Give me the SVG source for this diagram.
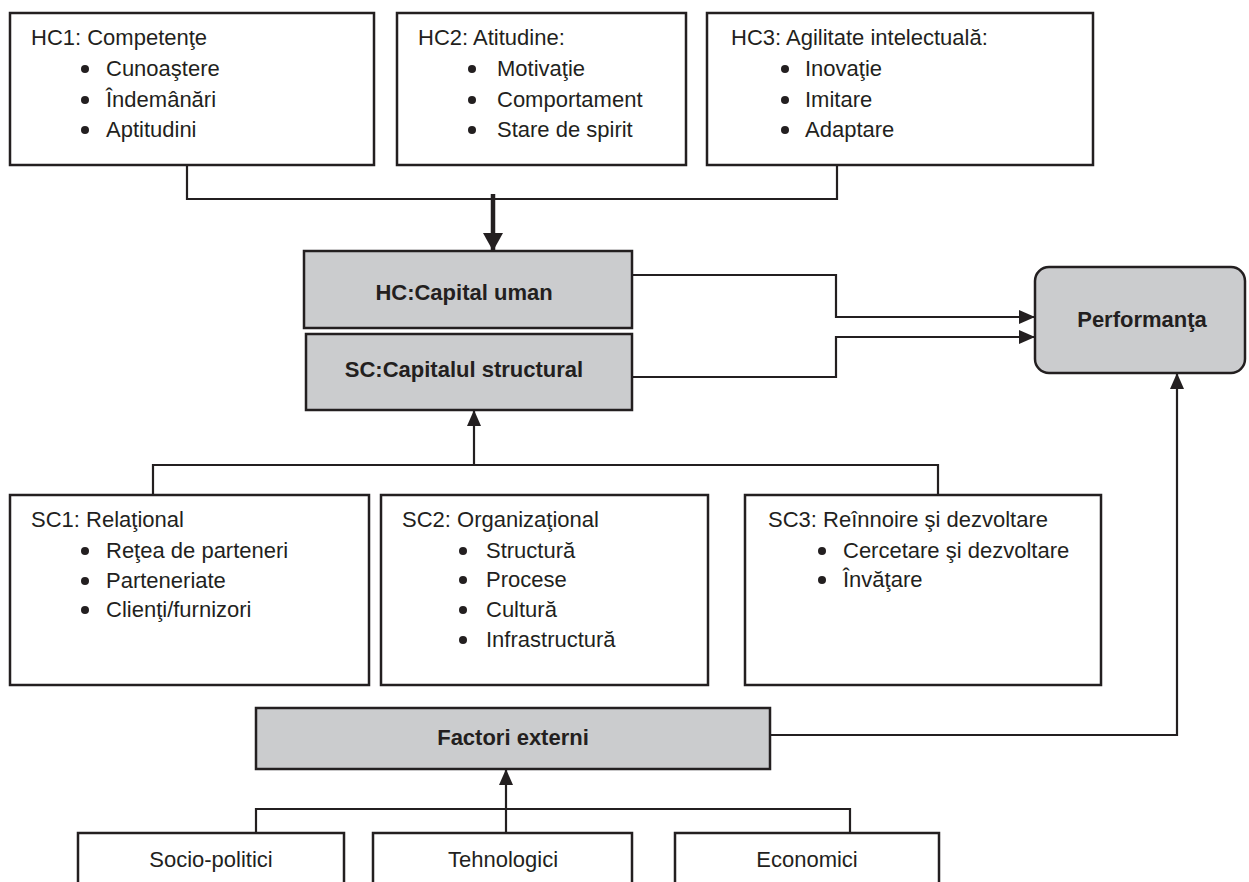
<svg xmlns="http://www.w3.org/2000/svg" width="1249" height="882" viewBox="0 0 1249 882">
<defs>
<style>
.box{fill:#fff;stroke:#231f20;stroke-width:2.5}
.gbox{fill:#cbccce;stroke:#231f20;stroke-width:2.5}
.t{font-family:"Liberation Sans",Arial,sans-serif;font-size:22px;fill:#231f20}
.b{font-family:"Liberation Sans",Arial,sans-serif;font-size:22px;font-weight:bold;fill:#231f20;text-anchor:middle}
.c{text-anchor:middle}
.ln{fill:none;stroke:#231f20;stroke-width:2.2}
.dot{fill:#231f20}
</style>
<marker id="ah" markerUnits="userSpaceOnUse" markerWidth="16" markerHeight="14" refX="15" refY="7" orient="auto">
<path d="M0,0 L16,7 L0,14 Z" fill="#231f20"/>
</marker>
<marker id="ahb" markerUnits="userSpaceOnUse" markerWidth="18" markerHeight="20" refX="17" refY="10" orient="auto">
<path d="M0,0 L18,10 L0,20 Z" fill="#231f20"/>
</marker>
</defs>
<rect width="1249" height="882" fill="#fff"/>

<g id="connectors">
<path class="ln" d="M187,165 V199 H837 V165"/>
<path d="M493,194 V250" fill="none" stroke="#231f20" stroke-width="4.5" marker-end="url(#ahb)"/>
<path class="ln" d="M632,275 H836 V317 H1034" marker-end="url(#ah)"/>
<path class="ln" d="M632,377 H836 V337 H1034" marker-end="url(#ah)"/>
<path class="ln" d="M153,495 V465 H938 V495"/>
<path class="ln" d="M474,465 V411" marker-end="url(#ah)"/>
<path class="ln" d="M770,735 H1177 V374" marker-end="url(#ah)"/>
<path class="ln" d="M256,833 V809 H850 V833"/>
<path class="ln" d="M506,833 V770" marker-end="url(#ah)"/>
</g>

<g id="hc1">
<rect class="box" x="10" y="13" width="364" height="152"/>
<text class="t" x="31" y="45">HC1: Competenţe</text>
<circle class="dot" cx="85" cy="69" r="4"/><text class="t" x="106" y="76">Cunoaştere</text>
<circle class="dot" cx="85" cy="100" r="4"/><text class="t" x="106" y="107">Îndemânări</text>
<circle class="dot" cx="85" cy="130" r="4"/><text class="t" x="106" y="137">Aptitudini</text>
</g>

<g id="hc2">
<rect class="box" x="397" y="13" width="289" height="152"/>
<text class="t" x="418" y="45">HC2: Atitudine:</text>
<circle class="dot" cx="472" cy="69" r="4"/><text class="t" x="497" y="76">Motivaţie</text>
<circle class="dot" cx="472" cy="100" r="4"/><text class="t" x="497" y="107">Comportament</text>
<circle class="dot" cx="472" cy="130" r="4"/><text class="t" x="497" y="137">Stare de spirit</text>
</g>

<g id="hc3">
<rect class="box" x="707" y="13" width="386" height="152"/>
<text class="t" x="731" y="45">HC3: Agilitate intelectuală:</text>
<circle class="dot" cx="785" cy="69" r="4"/><text class="t" x="805" y="76">Inovaţie</text>
<circle class="dot" cx="785" cy="100" r="4"/><text class="t" x="805" y="107">Imitare</text>
<circle class="dot" cx="785" cy="130" r="4"/><text class="t" x="805" y="137">Adaptare</text>
</g>

<g id="hc">
<rect class="gbox" x="304" y="251" width="328" height="77"/>
<text class="b" x="464" y="300">HC:Capital uman</text>
</g>

<g id="sc">
<rect class="gbox" x="306" y="334" width="326" height="76"/>
<text class="b" x="464" y="377">SC:Capitalul structural</text>
</g>

<g id="performanta">
<rect class="gbox" x="1035" y="267" width="210" height="106" rx="14"/>
<text class="b" x="1142" y="327">Performanţa</text>
</g>

<g id="sc1">
<rect class="box" x="10" y="495" width="359" height="190"/>
<text class="t" x="31" y="527">SC1: Relaţional</text>
<circle class="dot" cx="85" cy="551" r="4"/><text class="t" x="106" y="558">Reţea de parteneri</text>
<circle class="dot" cx="85" cy="581" r="4"/><text class="t" x="106" y="588">Parteneriate</text>
<circle class="dot" cx="85" cy="610" r="4"/><text class="t" x="106" y="617">Clienţi/furnizori</text>
</g>

<g id="sc2">
<rect class="box" x="381" y="495" width="327" height="190"/>
<text class="t" x="402" y="527">SC2: Organizaţional</text>
<circle class="dot" cx="463" cy="551" r="4"/><text class="t" x="486" y="558">Structură</text>
<circle class="dot" cx="463" cy="580" r="4"/><text class="t" x="486" y="587">Procese</text>
<circle class="dot" cx="463" cy="610" r="4"/><text class="t" x="486" y="617">Cultură</text>
<circle class="dot" cx="463" cy="640" r="4"/><text class="t" x="486" y="647">Infrastructură</text>
</g>

<g id="sc3">
<rect class="box" x="745" y="495" width="356" height="190"/>
<text class="t" x="768" y="527">SC3: Reînnoire şi dezvoltare</text>
<circle class="dot" cx="822" cy="551" r="4"/><text class="t" x="843" y="558">Cercetare şi dezvoltare</text>
<circle class="dot" cx="822" cy="580" r="4"/><text class="t" x="843" y="587">Învăţare</text>
</g>

<g id="factori">
<rect class="gbox" x="256" y="708" width="514" height="61"/>
<text class="b" x="513" y="745">Factori externi</text>
</g>

<g id="socio">
<rect class="box" x="78" y="833" width="266" height="60"/>
<text class="t c" x="211" y="867">Socio-politici</text>
</g>
<g id="tehno">
<rect class="box" x="373" y="833" width="259" height="60"/>
<text class="t c" x="503" y="867">Tehnologici</text>
</g>
<g id="econ">
<rect class="box" x="675" y="833" width="264" height="60"/>
<text class="t c" x="807" y="867">Economici</text>
</g>
</svg>
